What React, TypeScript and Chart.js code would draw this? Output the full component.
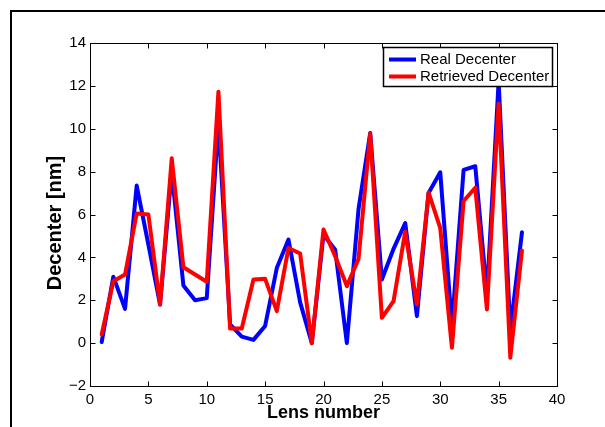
import React, { useEffect, useRef } from "react";
import { Chart, registerables } from "chart.js";

Chart.register(...registerables);

const lensNumbers = [1, 2, 3, 4, 5, 6, 7, 8, 9, 10, 11, 12, 13, 14, 15, 16, 17, 18, 19, 20, 21, 22, 23, 24, 25, 26, 27, 28, 29, 30, 31, 32, 33, 34, 35, 36, 37];
const realDecenter = [0.05, 3.1, 1.6, 7.35, 4.6, 1.8, 8.0, 2.69, 2.0, 2.1, 10.3, 0.87, 0.3, 0.15, 0.8, 3.5, 4.83, 1.9, 0.0, 5.06, 4.36, 0.0, 6.25, 9.8, 2.97, 4.4, 5.6, 1.26, 7.0, 7.97, 0.8, 8.08, 8.25, 2.3, 12.2, 0.6, 5.17];
const retrievedDecenter = [0.4, 2.89, 3.2, 6.05, 6.0, 1.8, 8.62, 3.54, 3.2, 2.86, 11.73, 0.68, 0.68, 2.97, 3.0, 1.49, 4.44, 4.18, 0.0, 5.3, 4.05, 2.66, 3.93, 9.77, 1.18, 1.96, 5.2, 1.8, 7.03, 5.36, -0.22, 6.63, 7.25, 1.57, 11.18, -0.68, 4.32];
const seriesLabels = ["Real Decenter", "Retrieved Decenter"];
const seriesColors = ["#0000ff", "#ff0000"];
const xTickValues = [0, 5, 10, 15, 20, 25, 30, 35, 40];
const yTickValues = [-2, 0, 2, 4, 6, 8, 10, 12, 14];
const yTickLabels = ["\u22122", "0", "2", "4", "6", "8", "10", "12", "14"];
const xTitle = "Lens number";
const yTitle = "Decenter [nm]";

const FONT = "'Liberation Sans', Arial, Helvetica, sans-serif";

const decorPlugin = {
  id: "decor",
  afterDraw(chart: any) {
    const { ctx, chartArea: a, scales } = chart;
    const xs = scales.x;
    const ys = scales.y;
    ctx.save();
    // outer figure frame
    ctx.fillStyle = "#000";
    ctx.fillRect(10, 10, 2, 417);
    ctx.fillRect(10, 10, 595, 2);

    // axes box
    const L = Math.round(a.left) + 0.5;
    const R = Math.round(a.right) + 0.5;
    const T = Math.round(a.top) + 0.5;
    const B = Math.round(a.bottom) + 0.5;
    ctx.strokeStyle = "#000";
    ctx.lineWidth = 1;
    ctx.strokeRect(L, T, R - L, B - T);

    // inward ticks on all four sides
    const tl = 5;
    ctx.beginPath();
    xTickValues.forEach((v) => {
      const px = Math.round(xs.getPixelForValue(v)) + 0.5;
      ctx.moveTo(px, B);
      ctx.lineTo(px, B - tl);
      ctx.moveTo(px, T);
      ctx.lineTo(px, T + tl);
    });
    yTickValues.forEach((v) => {
      const py = Math.round(ys.getPixelForValue(v)) + 0.5;
      ctx.moveTo(L, py);
      ctx.lineTo(L + tl, py);
      ctx.moveTo(R, py);
      ctx.lineTo(R - tl, py);
    });
    ctx.stroke();

    // axis titles
    ctx.fillStyle = "#000";
    ctx.font = `bold 18px ${FONT}`;
    ctx.textAlign = "center";
    ctx.textBaseline = "middle";
    ctx.fillText(xTitle, (a.left + a.right) / 2, 413);
    ctx.save();
    ctx.font = `bold 20px ${FONT}`;
    ctx.translate(55, 223);
    ctx.rotate(-Math.PI / 2);
    ctx.fillText(yTitle, 0, 0);
    ctx.restore();

    // legend box
    const lx = 383.5, ly = 47.5, lw = 169, lh = 39;
    ctx.fillStyle = "#fff";
    ctx.fillRect(lx, ly, lw, lh);
    ctx.lineWidth = 1.5;
    ctx.strokeStyle = "#000";
    ctx.strokeRect(lx, ly, lw, lh);
    ctx.font = `15px ${FONT}`;
    ctx.textAlign = "left";
    ctx.textBaseline = "middle";
    const rows = [59.5, 76.5];
    seriesLabels.forEach((label, i) => {
      ctx.strokeStyle = seriesColors[i];
      ctx.lineWidth = 4;
      ctx.beginPath();
      ctx.moveTo(389, rows[i]);
      ctx.lineTo(416, rows[i]);
      ctx.stroke();
      ctx.fillStyle = "#000";
      ctx.fillText(label, 420, rows[i] + 0.5);
    });
    ctx.restore();
  },
};

export default function App() {
  const ref = useRef<HTMLCanvasElement | null>(null);
  useEffect(() => {
    if (!ref.current) return;
    const chart = new Chart(ref.current, {
      type: "line",
      data: {
        datasets: [
          {
            label: seriesLabels[0],
            data: lensNumbers.map((n, i) => ({ x: n, y: realDecenter[i] })),
            borderColor: seriesColors[0],
            backgroundColor: seriesColors[0],
            borderWidth: 4,
            pointRadius: 0,
            tension: 0,
            borderJoinStyle: "round",
            borderCapStyle: "round",
            order: 1,
          },
          {
            label: seriesLabels[1],
            data: lensNumbers.map((n, i) => ({ x: n, y: retrievedDecenter[i] })),
            borderColor: seriesColors[1],
            backgroundColor: seriesColors[1],
            borderWidth: 4,
            pointRadius: 0,
            tension: 0,
            borderJoinStyle: "round",
            borderCapStyle: "round",
            order: 0,
          },
        ],
      },
      options: {
        animation: false,
        responsive: false,
        maintainAspectRatio: false,
        layout: { padding: { left: 0, top: 43, right: 48, bottom: 0 } },
        plugins: { legend: { display: false }, tooltip: { enabled: false } },
        scales: {
          x: {
            type: "linear",
            min: 0,
            max: 40,
            afterFit: (s: any) => {
              s.height = 41;
            },
            afterBuildTicks: (s: any) => {
              s.ticks = xTickValues.map((v) => ({ value: v }));
            },
            grid: { display: false, drawTicks: false },
            border: { display: false },
            ticks: {
              color: "#000",
              font: { family: FONT, size: 15 },
              padding: 5,
              maxRotation: 0,
              autoSkip: false,
            },
          },
          y: {
            type: "linear",
            min: -2,
            max: 14,
            afterFit: (s: any) => {
              s.width = 90;
            },
            afterBuildTicks: (s: any) => {
              s.ticks = yTickValues.map((v) => ({ value: v }));
            },
            grid: { display: false, drawTicks: false },
            border: { display: false },
            ticks: {
              color: "#000",
              font: { family: FONT, size: 15 },
              padding: 4,
              autoSkip: false,
              callback: (v: any) => {
                const i = yTickValues.indexOf(Number(v));
                return i >= 0 ? yTickLabels[i] : "";
              },
            },
          },
        },
      },
      plugins: [decorPlugin],
    });
    return () => chart.destroy();
  }, []);
  return (
    <div style={{ position: "fixed", left: 0, top: 0, width: 605, height: 427, background: "#fff" }}>
      <canvas ref={ref} width={605} height={427} style={{ display: "block", width: 605, height: 427 }} />
    </div>
  );
}
